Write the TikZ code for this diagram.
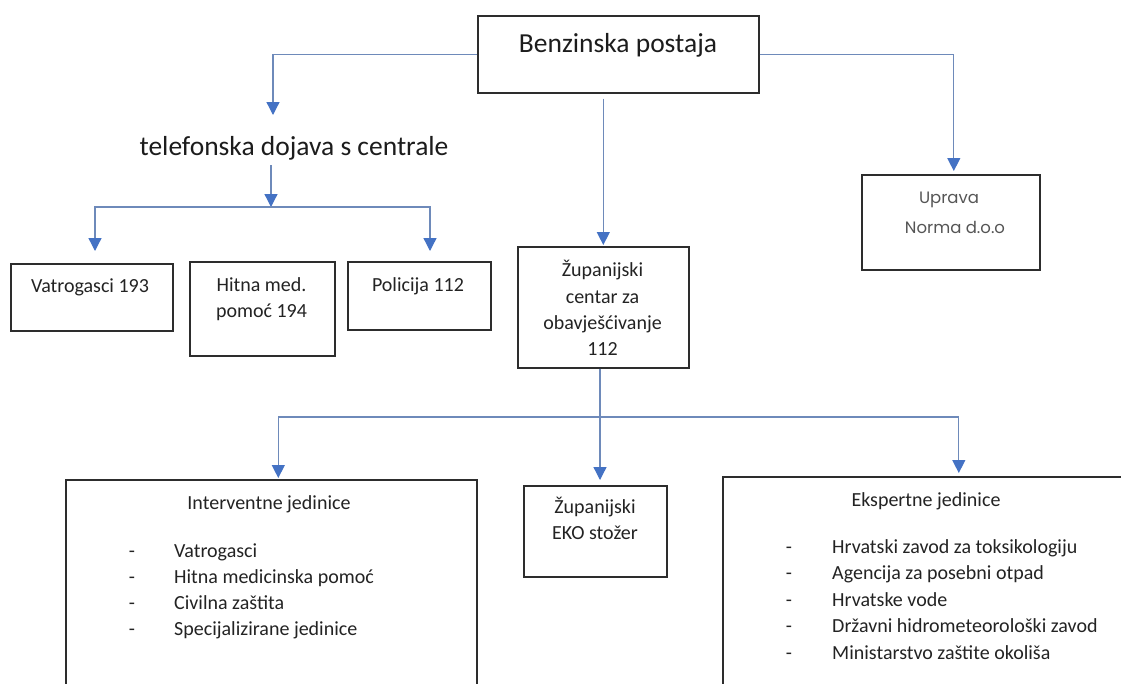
\documentclass[tikz,border=0pt]{standalone}
\usepackage{fontspec}
\setmainfont{Carlito}
\newfontfamily\popfont{Poppins}
\usetikzlibrary{arrows.meta}
\definecolor{boxline}{RGB}{45,45,45}
\definecolor{connline}{RGB}{110,138,186}
\definecolor{arrowblue}{RGB}{68,114,196}
\definecolor{txtcol}{RGB}{35,35,35}
\definecolor{graytxt}{RGB}{85,85,85}
\tikzset{
  boxnode/.style={draw=boxline, line width=1.6pt, inner sep=0pt, anchor=north west, fill=none},
  txt/.style={font=\fontsize{20}{26}\selectfont, text=txtcol, inner sep=0pt, anchor=base},
  bigtxt/.style={font=\fontsize{27.5}{33}\selectfont, text=txtcol!80!black, inner sep=0pt, anchor=base},
  poptxt/.style={font=\popfont\fontsize{16.5}{20}\selectfont, text=graytxt, inner sep=0pt, anchor=base},
  leftt/.style={txt, anchor=base west},
  conn/.style={draw=connline, line width=1.3pt, -{Triangle[width=13pt,length=13pt,color=arrowblue]}}
}
\begin{document}
\begin{tikzpicture}[x=1pt,y=-1pt]
\clip (0,0) rectangle (1121,683);
\fill[white] (0,0) rectangle (1121,683);

% boxes
\node[boxnode, minimum width=281pt, minimum height=77pt] (bp) at (477,15) {};
\node[boxnode, minimum width=162pt, minimum height=67pt] (vat) at (10,263) {};
\node[boxnode, minimum width=145pt, minimum height=94pt] (hit) at (189,261) {};
\node[boxnode, minimum width=143pt, minimum height=68pt] (pol) at (347,261) {};
\node[boxnode, minimum width=171pt, minimum height=121pt] (zup) at (517,246) {};
\node[boxnode, minimum width=178pt, minimum height=95pt] (upr) at (861,174) {};
\node[boxnode, minimum width=411pt, minimum height=260pt] (int) at (65,479) {};
\node[boxnode, minimum width=143pt, minimum height=91pt] (eko) at (523,485) {};
\node[boxnode, minimum width=420pt, minimum height=260pt] (eks) at (722,476) {};

% texts
\node[bigtxt] (bpt) at (618,52) {Benzinska postaja};
\node[bigtxt] (tel) at (294,155) {telefonska dojava s centrale};
\node[txt] (vatt) at (90,292.5) {Vatrogasci 193};
\node[txt] (hitt1) at (261.5,291) {Hitna med.};
\node[txt] (hitt2) at (261.5,317) {pomoć 194};
\node[txt] (polt) at (418,291) {Policija 112};
\node[txt] (zupt1) at (602.5,276) {Županijski};
\node[txt] (zupt2) at (602.5,303) {centar za};
\node[txt] (zupt3) at (602.5,329) {obavješćivanje};
\node[txt] (zupt4) at (602.5,355) {112};
\node[poptxt] (uprt1) at (949,203.5) {Uprava};
\node[poptxt] (uprt2) at (955,233.5) {Norma d.o.o};
\node[txt] (ekot1) at (595,513) {Županijski};
\node[txt] (ekot2) at (595,539) {EKO stožer};

\node[txt] (intt) at (269,509) {Interventne jedinice};
\foreach \t [count=\i] in {Vatrogasci, Hitna medicinska pomoć, Civilna zaštita, Specijalizirane jedinice} {
  \pgfmathsetmacro{\yy}{557+26.3*(\i-1)}
  \node[txt] (intd\i) at (132,\yy) {-};
  \node[leftt] (intl\i) at (174,\yy) {\t};
}
\node[txt] (ekst) at (926,506) {Ekspertne jedinice};
\foreach \t [count=\i] in {Hrvatski zavod za toksikologiju, Agencija za posebni otpad, Hrvatske vode, Državni hidrometeorološki zavod, Ministarstvo zaštite okoliša} {
  \pgfmathsetmacro{\yy}{553+26.5*(\i-1)}
  \node[txt] (eksd\i) at (789,\yy) {-};
  \node[leftt] (eksl\i) at (832,\yy) {\t};
}

% connector points
\coordinate (telin) at (273,115);
\coordinate (telout) at (271,165);
\coordinate (j1) at (271,207);
\coordinate (vatin) at (95,251);
\coordinate (polin) at (430,251);
\coordinate (j2) at (600,417);

% connectors
\draw[conn] (bp.west) -| (telin);
\draw[conn] (telout) -- (j1);
\draw[conn] (j1) -| (vatin);
\draw[conn] (j1) -| (polin);
\draw[conn, shorten >=3pt] (bp.east) -| ([xshift=3pt]upr.north);
\draw[conn, shorten <=5pt, shorten >=1pt] (bp.south -| zup.north) -- (zup.north);
\draw[conn, shorten >=5pt] (j2 |- zup.south) -- (j2 |- eko.north);
\draw[conn, shorten >=1pt] (j2) -| ([xshift=7pt]int.north);
\draw[conn, shorten >=3pt] (j2) -| ([xshift=26pt]eks.north);
\end{tikzpicture}
\end{document}
